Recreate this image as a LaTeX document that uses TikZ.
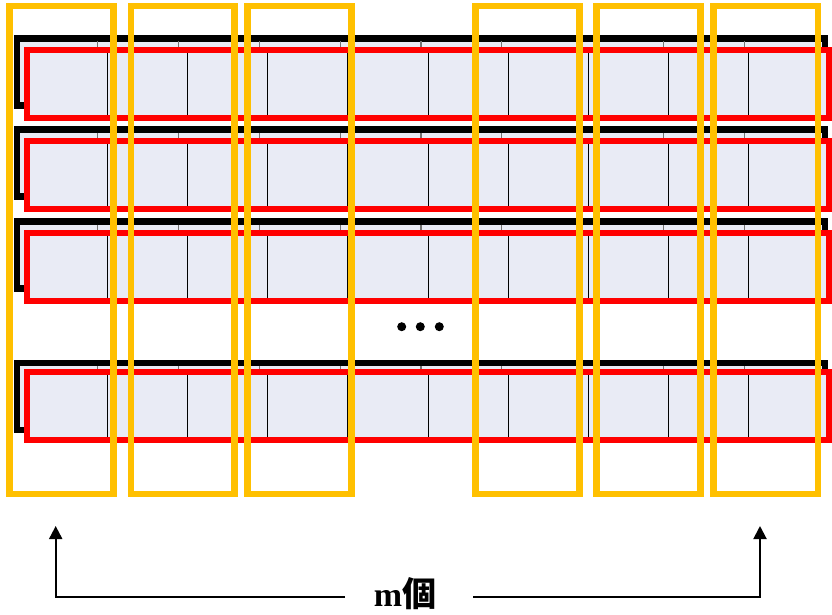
\documentclass[tikz,border=0pt]{standalone}
\usepackage{fontspec}
\setmainfont{Liberation Serif}
\newfontfamily\cjk{Noto Sans CJK JP}
\usetikzlibrary{arrows.meta}
\definecolor{cellfill}{RGB}{233,235,245}
\definecolor{ybox}{RGB}{255,192,0}
\definecolor{rbox}{RGB}{255,0,0}
\tikzset{
  backrect/.style={fill=cellfill, draw=black, line width=6.5pt},
  backdiv/.style={draw=black!55, line width=1.3pt},
  frontfill/.style={fill=cellfill},
  frontdiv/.style={draw=black, line width=1.3pt},
  frontrect/.style={draw=rbox, line width=6pt},
  groupbox/.style={draw=ybox, line width=6.5pt},
  dimline/.style={draw=black, line width=2pt},
  dimarrow/.style={dimline, -{Triangle[length=13pt,width=13pt]}},
}
\begin{document}
\begin{tikzpicture}[x=1pt,y=-1pt]
\useasboundingbox (0,0) rectangle (832,614);
% rows
\foreach \rt/\bt in {49.7/38.3, 141/129.5, 233/221.5, 372.3/362.8}{
  \path[backrect] (17,\bt) rectangle (825,\bt+67);
  \foreach \i in {1,...,9}{
    \draw[backdiv] (17+80.8*\i,\bt+3) -- (17+80.8*\i,\bt+60);
  }
  \path[frontfill] (27.3,\rt) rectangle (829,\rt+68);
  \foreach \i in {1,...,9}{
    \draw[frontdiv] (27.3+80.17*\i,\rt) -- (27.3+80.17*\i,\rt+68);
  }
  \path[frontrect] (27.3,\rt) rectangle (829,\rt+68);
}
% group boxes
\foreach \a/\b in {9.7/113.3, 131/234.5, 247.5/351.7, 475.7/579.3, 596.7/700.3, 713.7/818}{
  \path[groupbox] (\a,5.8) rectangle (\b,494);
}
% ellipsis dots
\fill (401.7,326.7) circle (4.5);
\fill (420.3,326.7) circle (4.5);
\fill (439.3,326.7) circle (4.5);
% label and arrows
\node[anchor=base, inner sep=0pt, font=\bfseries\fontsize{34}{34}\selectfont] (lbl) at (405,606) {m{\cjk 個}};
\coordinate (tipL) at (55.7,526);
\coordinate (cornerL) at (55.7,597.3);
\coordinate (endL) at (345,597.3);
\coordinate (tipR) at (760,526);
\coordinate (cornerR) at (760,597.3);
\coordinate (endR) at (473,597.3);
\draw[dimarrow] (endL) -- (cornerL) -- (tipL);
\draw[dimarrow] (endR) -- (cornerR) -- (tipR);
\end{tikzpicture}
\end{document}
